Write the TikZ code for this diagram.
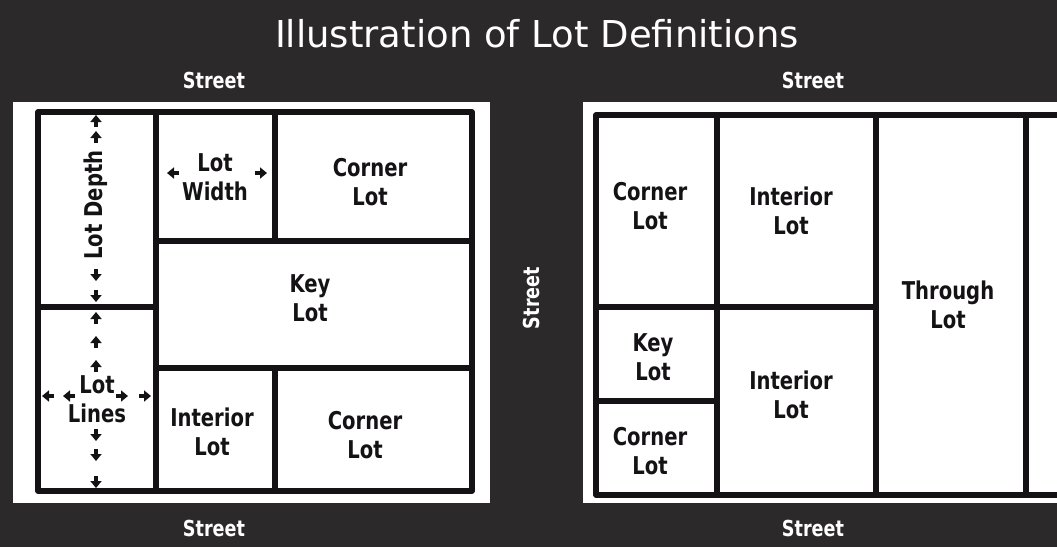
\documentclass[tikz,border=0pt]{standalone}
\usepackage{fontspec}
\setmainfont{DejaVu Sans}
\newfontfamily\lotfont{DejaVu Sans}[FakeStretch=0.8]
\usepackage{tikz}
\usetikzlibrary{
  arrows.meta
}
\definecolor{lotBg}{HTML}{2C292B}
\definecolor{lotInk}{HTML}{141214}
\tikzset{
  lotline/.style={draw=lotInk, line width=5.5pt, line join=round},
  lotlabel/.style={
    font=\lotfont\bfseries\fontsize{24.5}{29.5}\selectfont,
    align=center, text=lotInk, inner sep=0pt
  },
  street/.style={font=\lotfont\bfseries\fontsize{22}{26}\selectfont, text=white, inner sep=0pt},
  titletext/.style={font=\fontsize{37}{44}\selectfont, text=white, inner sep=0pt},
  dimtip/.style={-{Triangle[length=7pt, width=11pt]}, line width=3.8pt, lotInk}
}

\begin{document}
\begin{tikzpicture}[x=1pt, y=-1pt]
  \useasboundingbox (0,0) rectangle (1057,547);
  \clip (0,0) rectangle (1057,547);
  \fill[lotBg] (0,0) rectangle (1057,547);

  % white blocks
  \fill[white] (13,102) rectangle (490,503);
  \fill[white] (583,102) rectangle (1070,503);

  % left block
  \draw[lotline] (38,112) rectangle (472,491);
  \draw[lotline] (156,112) -- (156,491);
  \draw[lotline] (38,307) -- (156,307);
  \draw[lotline] (156,241) -- (472,241);
  \draw[lotline] (156,368) -- (472,368);
  \draw[lotline] (275,112) -- (275,241);
  \draw[lotline] (275,368) -- (275,491);

  % right block, runs off the page
  \draw[lotline] (1075,115) -- (596,115) -- (596,495) -- (1075,495);
  \foreach \x in {717,876,1026}
    \draw[lotline] (\x,115) -- (\x,495);
  \draw[lotline] (596,307) -- (876,307);
  \draw[lotline] (596,401) -- (717,401);

  \node[titletext, anchor=base] (title) at (537,47) {Illustration of Lot Definitions};
  \node[street, anchor=base] (streetTL) at (214,88) {Street};
  \node[street, anchor=base] (streetBL) at (214,536) {Street};
  \node[street, anchor=base] (streetTR) at (813,88) {Street};
  \node[street, anchor=base] (streetBR) at (813,536) {Street};
  \node[street, rotate=90] (streetMid) at (531,298) {Street};

  % left block labels
  \node[lotlabel, rotate=90] (depth) at (96,205) {Lot Depth};
  \node[lotlabel] (width) at (215,177) {Lot\\Width};
  \node[lotlabel] (cornerA) at (370,182) {Corner\\Lot};
  \node[lotlabel] (keyA) at (310,298) {Key\\Lot};
  \node[lotlabel] (lines) at (97,399) {Lot\\Lines};
  \node[lotlabel] (interiorA) at (212,432) {Interior\\Lot};
  \node[lotlabel] (cornerB) at (365,435) {Corner\\Lot};

  % right block labels
  \node[lotlabel] (cornerC) at (650,206) {Corner\\Lot};
  \node[lotlabel] (interiorB) at (791,211) {Interior\\Lot};
  \node[lotlabel] (through) at (948,305) {Through\\Lot};
  \node[lotlabel] (keyB) at (653,357) {Key\\Lot};
  \node[lotlabel] (interiorC) at (791,395) {Interior\\Lot};
  \node[lotlabel] (cornerD) at (650,451) {Corner\\Lot};

  % depth marks
  \foreach \a/\b in {127/115, 143/131, 269/281, 290/302}
    \draw[dimtip] (96,\a) -- (96,\b);
  % lot line marks
  \foreach \a/\b in {324/312, 348/336, 372/360, 429/441, 449/461, 476/488}
    \draw[dimtip] (96,\a) -- (96,\b);
  \foreach \a/\b in {54/42, 75/63, 116/128, 139/151}
    \draw[dimtip] (\a,396) -- (\b,396);
  % width marks
  \draw[dimtip] (179,173) -- (167,173);
  \draw[dimtip] (255,173) -- (267,173);
\end{tikzpicture}
\end{document}
